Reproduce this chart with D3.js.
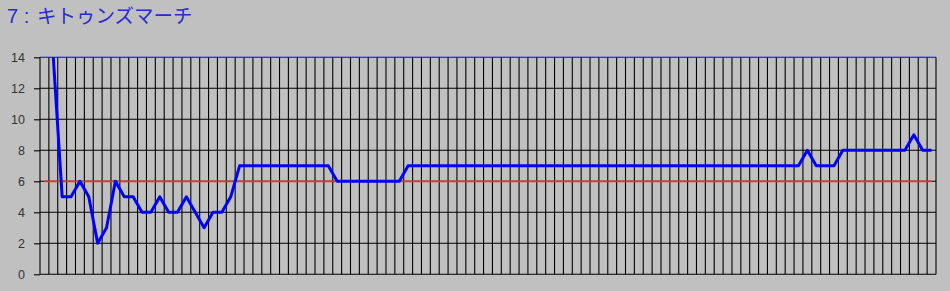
<!DOCTYPE html>
<html><head><meta charset="utf-8">
<script src="https://cdn.jsdelivr.net/npm/d3@7"></script>
<style>
html,body{margin:0;padding:0;background:#c0c0c0;}
svg{display:block;}
</style></head>
<body>
<svg id="chart" width="950" height="291"></svg>
<script>
const titleNum = "7 : ";
const titleName = "キトゥンズマーチ";
const categories = d3.range(1, 102); // 101 races (index labels)
const values = [
  40, 14, 5, 5, 6, 5, 2, 3, 6, 5,
  5, 4, 4, 5, 4, 4, 5, 4, 3, 4,
  4, 5, 7, 7, 7, 7, 7, 7, 7, 7,
  7, 7, 7, 6, 6, 6, 6, 6, 6, 6,
  6, 7, 7, 7, 7, 7, 7, 7, 7, 7,
  7, 7, 7, 7, 7, 7, 7, 7, 7, 7,
  7, 7, 7, 7, 7, 7, 7, 7, 7, 7,
  7, 7, 7, 7, 7, 7, 7, 7, 7, 7,
  7, 7, 7, 7, 7, 7, 8, 7, 7, 7,
  8, 8, 8, 8, 8, 8, 8, 8, 9, 8,
  8
];
const refLevel = 6;
const yTicks = [0, 2, 4, 6, 8, 10, 12, 14];

const svg = d3.select("#chart");
const L = 40, R = 936, T = 57.3, B = 274.3;

const x = d3.scaleBand().domain(categories).range([L, R]).padding(0);
const y = d3.scaleLinear().domain([0, 14]).range([B, T]);

const t = svg.append("text")
  .attr("y", 23)
  .attr("fill", "#2b2bd0")
  .attr("font-size", 19.5)
  .attr("xml:space", "preserve");
t.append("tspan").attr("x", 7)
  .attr("font-family", "'Liberation Sans', Arial, sans-serif")
  .attr("font-size", 20)
  .style("white-space", "pre")
  .text(titleNum);
t.append("tspan").attr("x", 37)
  .attr("font-family", "'Noto Sans CJK JP', sans-serif")
  .text(titleName);

// vertical gridlines at band boundaries
const bounds = categories.map(c => x(c)).concat([R]);
svg.append("g").selectAll("line").data(bounds).join("line")
  .attr("x1", d => d).attr("x2", d => d)
  .attr("y1", T).attr("y2", B)
  .attr("stroke", "#000").attr("stroke-width", 1.1);

// horizontal gridlines
svg.append("g").selectAll("line").data(yTicks.filter(t => t !== 14)).join("line")
  .attr("x1", L).attr("x2", R)
  .attr("y1", d => y(d)).attr("y2", d => y(d))
  .attr("stroke", "#000").attr("stroke-width", 1.1);

// top border in blue
svg.append("line")
  .attr("x1", L).attr("x2", R).attr("y1", y(14)).attr("y2", y(14))
  .attr("stroke", "#0000ff").attr("stroke-width", 1.1);

// y axis
const axis = svg.append("g").attr("transform", `translate(${L},0)`)
  .call(d3.axisLeft(y).tickValues(yTicks).tickSize(6).tickPadding(9));
axis.select(".domain").remove();
axis.selectAll(".tick line").attr("stroke", "#000").attr("stroke-width", 1.1);
axis.selectAll(".tick text")
  .attr("fill", "#333")
  .attr("font-family", "'Liberation Sans', Arial, sans-serif")
  .attr("font-size", 12.5);

// clip
svg.append("clipPath").attr("id", "plot")
  .append("rect").attr("x", L).attr("y", T).attr("width", R - L).attr("height", B - T);

const cx = c => x(c) + x.bandwidth() / 2;

// reference line
svg.append("line")
  .attr("x1", cx(categories[0])).attr("x2", cx(categories[categories.length - 1]))
  .attr("y1", y(refLevel)).attr("y2", y(refLevel))
  .attr("stroke", "#e83030").attr("stroke-width", 1.7);

// data line
const line = d3.line().x((d, i) => cx(categories[i])).y(d => y(d));
svg.append("path")
  .attr("clip-path", "url(#plot)")
  .attr("d", line(values))
  .attr("fill", "none")
  .attr("stroke", "#0000ff")
  .attr("stroke-width", 3)
  .attr("stroke-linejoin", "round");
</script>
</body></html>
